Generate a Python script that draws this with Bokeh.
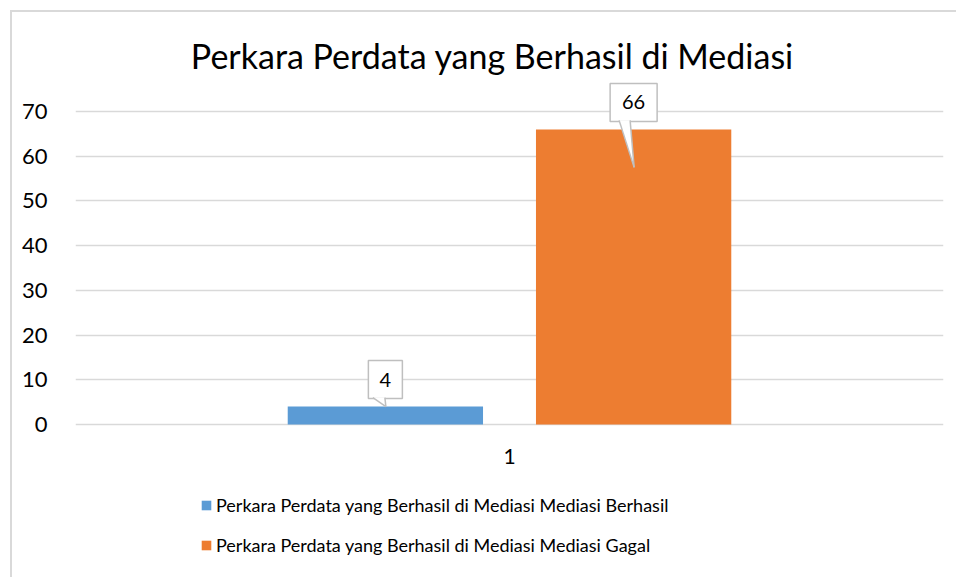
from bokeh.plotting import figure
from bokeh.models import Range1d, FixedTicker, Legend, LegendItem, ColumnDataSource, Label
from bokeh.layouts import column
from bokeh.core.properties import value
from bokeh.embed import file_html
from bokeh.resources import INLINE

# ---- data ----
chart_title = "Perkara Perdata yang Berhasil di Mediasi"
categories = ["1"]
category_pos = [1]
series_names = [
    "Perkara Perdata yang Berhasil di Mediasi Mediasi Berhasil",
    "Perkara Perdata yang Berhasil di Mediasi Mediasi Gagal",
]
series_values = [4, 66]
series_colors = ["#5B9BD5", "#ED7D31"]
y_ticks = [0, 10, 20, 30, 40, 50, 60, 70]

# ---- layout (pixels) ----
FONT = "Lato"
W, H = 944, 565
ML, MR, MT, MB = 63, 13, 2, 0
PX_PER_UNIT = 313 / 70          # vertical scale of the value axis
ZERO_PX = 410                   # distance of y=0 from the frame top
frame_w = W - ML - MR
frame_h = H - MT - MB
Y_END = ZERO_PX / PX_PER_UNIT
Y_START = -(frame_h - ZERO_PX) / PX_PER_UNIT
ppu_x = frame_w / 1.0
ppu_y = PX_PER_UNIT
X0 = 0.5

bar_offsets = [-0.143, 0.143]
bar_width = 0.225
box_widths = [34, 47]
box_h = 38
box_dy = 27
tail_base = [(-12.5, -0.5), (-14.5, -3.5)]
tail_tip = [(0.5, 0), (0.5, 38)]
TITLE_RISE = 356 + 13           # title baseline above y=0, px

p = figure(width=W, height=H, output_backend="svg", toolbar_location=None,
           x_range=Range1d(X0, X0 + 1), y_range=Range1d(Y_START, Y_END),
           min_border_left=ML, min_border_right=MR, min_border_top=MT, min_border_bottom=MB)
p.outline_line_color = None
p.background_fill_color = "white"
p.border_fill_color = "white"

# grid / axes
p.xgrid.visible = False
p.xaxis.visible = False
p.ygrid.ticker = FixedTicker(ticks=y_ticks)
p.ygrid.grid_line_color = "#d9d9d9"
p.ygrid.grid_line_width = 1.5

p.yaxis.ticker = FixedTicker(ticks=y_ticks)
p.yaxis.axis_line_color = None
p.yaxis.major_tick_line_color = None
p.yaxis.minor_tick_line_color = None
p.yaxis.major_label_standoff = 22
p.yaxis.major_label_text_font = FONT
p.yaxis.major_label_text_font_size = "22px"
p.yaxis.major_label_text_color = "#000000"

# category label under the axis line
p.text(x=category_pos, y=[-32 / ppu_y] * len(category_pos), text=categories,
       text_align="center", text_baseline="middle", text_font=value(FONT),
       text_font_size="21px", text_color="#000000")

items = []
for i, (name, v, col) in enumerate(zip(series_names, series_values, series_colors)):
    bx = category_pos[0] + bar_offsets[i]
    src = ColumnDataSource(dict(x=[bx], top=[v]))
    r = p.vbar(x="x", top="top", bottom=0, width=bar_width, source=src,
               fill_color=col, line_color=None)
    items.append(LegendItem(label=name, renderers=[r]))

    # data-label callout
    cy = v + box_dy / ppu_y
    p.rect(x=[bx], y=[cy], width=box_widths[i], height=box_h, width_units="screen",
           height_units="screen", fill_color="white", line_color="#bfbfbf", line_width=1.5)
    bl, br = tail_base[i]
    tx, ty = tail_tip[i]
    base_y = v + (box_dy - box_h / 2 + 1) / ppu_y
    xs = [bx + bl / ppu_x, bx + tx / ppu_x, bx + br / ppu_x]
    ys = [base_y, v - ty / ppu_y, base_y]
    p.patch(x=xs, y=ys, fill_color="white", line_color=None)
    p.multi_line(xs=[[xs[0], xs[1]], [xs[1], xs[2]]], ys=[[ys[0], ys[1]], [ys[1], ys[2]]],
                 line_color="#bfbfbf", line_width=1.5)
    p.text(x=[bx], y=[cy], text=[str(v)], text_align="center", text_baseline="middle",
           text_font=value(FONT), text_font_size="20px", text_color="#000000")

legend = Legend(items=items, location=(125, 21), orientation="vertical")
legend.padding = 0
legend.margin = 0
legend.spacing = 18
legend.glyph_width = 12
legend.glyph_height = 12
legend.label_height = 20
legend.label_standoff = 4
legend.label_text_font = FONT
legend.label_text_font_size = "18px"
legend.label_text_color = "#000000"
legend.border_line_color = None
legend.background_fill_alpha = 0
p.add_layout(legend, "center")

title = Label(x=X0 + 417 / ppu_x, y=TITLE_RISE / ppu_y, text=chart_title,
              text_align="center", text_baseline="alphabetic", text_font=FONT,
              text_font_size="34px", text_color="#000000")
p.add_layout(title)

layout = column(p, margin=(10, 0, 0, 10),
                styles={"border-left": "2px solid #d9d9d9", "border-top": "2px solid #d9d9d9"})

open("out.html", "w").write(file_html(layout, INLINE))
